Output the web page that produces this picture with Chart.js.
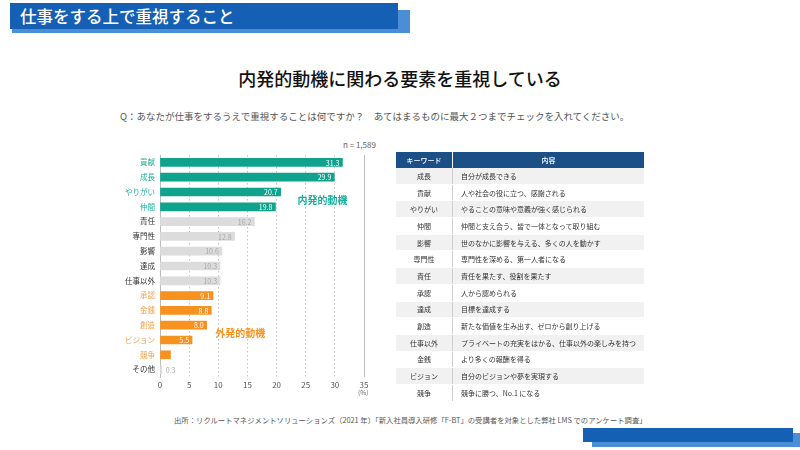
<!DOCTYPE html>
<html lang="ja">
<head>
<meta charset="utf-8">
<script src="https://cdn.jsdelivr.net/npm/chart.js@4"></script>
<style>
  html, body { margin: 0; padding: 0; background: #fff; }
  body { width: 800px; height: 450px; position: relative; overflow: hidden;
         font-family: "Noto Sans CJK JP", "Noto Sans", sans-serif; }
  .abs { position: absolute; }
  #hdr-shadow { left: 12px; top: 10px; width: 398px; height: 23px; background: #4a8fd6; }
  #hdr { left: 10px; top: 3px; width: 388px; height: 26px; background: #1560b5; }
  #hdr-text { left: 20px; top: 3px; height: 26px; line-height: 26px; color: #fff;
              font-size: 16.5px; font-weight: 500; }
  #title { left: 0; width: 800px; top: 65px; text-align: center; font-size: 18px;
           font-weight: 500; color: #111; }
  #question { left: 120px; top: 109px; font-size: 9.5px; color: #555; white-space: nowrap; }
  #n-label { left: 343px; top: 139px; font-size: 8px; color: #666; }
  #pct { left: 358px; top: 387px; font-size: 6.5px; color: #666; }
  #chart-box { left: 100px; top: 140px; width: 280px; height: 255px; }
  #kw-table { left: 396px; top: 152px; width: 248px; border-collapse: collapse;
              font-size: 7px; color: #333; table-layout: fixed; }
  #kw-table th { background: #1b4f86; color: #fff; font-weight: 500; height: 16px; padding: 0;
                 border-right: 1px solid #fff; }
  #kw-table th:first-child { width: 56px; }
  #kw-table th:last-child { border-right: none; }
  #kw-table td { height: 15.7px; padding: 0; border-bottom: 1px solid #fff; white-space: nowrap; }
  #kw-table td.k { text-align: center; border-right: 1px solid #cfcfcf; }
  #kw-table td.d { padding-left: 8px; }
  #kw-table tr.odd td { background: #f1f1f1; }
  #source { left: 174px; top: 414px; font-size: 7.35px; color: #555; white-space: nowrap; }
  #foot-shadow { left: 592px; top: 433px; width: 208px; height: 14px; background: #4a8fd6; }
  #foot { left: 583px; top: 428px; width: 210px; height: 14px; background: #1560b5; }
</style>
</head>
<body>
<div id="hdr-shadow" class="abs"></div>
<div id="hdr" class="abs"></div>
<div id="hdr-text" class="abs">仕事をする上で重視すること</div>

<div id="title" class="abs">内発的動機に関わる要素を重視している</div>
<div id="question" class="abs">Q：あなたが仕事をするうえで重視することは何ですか？　あてはまるものに最大２つまでチェックを入れてください。</div>

<div id="n-label" class="abs">n = 1,589</div>
<div id="chart-box" class="abs"><canvas id="chart"></canvas></div>
<div id="pct" class="abs">(%)</div>

<table id="kw-table" class="abs">
  <thead><tr><th>キーワード</th><th>内容</th></tr></thead>
  <tbody id="kw-body"></tbody>
</table>

<div id="source" class="abs">出所：リクルートマネジメントソリューションズ（2021 年）「新入社員導入研修「F-BT」の受講者を対象とした弊社 LMS でのアンケート調査」</div>
<div id="foot-shadow" class="abs"></div>
<div id="foot" class="abs"></div>

<script>
// ── Data ────────────────────────────────────────────────────────
const categories = ["貢献", "成長", "やりがい", "仲間", "責任", "専門性", "影響", "達成",
                    "仕事以外", "承認", "金銭", "創造", "ビジョン", "競争", "その他"];
const values     = [31.3, 29.9, 20.7, 19.8, 16.2, 12.8, 10.6, 10.3,
                    10.3, 9.1, 8.8, 8.0, 5.5, 1.8, 0.3];
// group: "in" = 内発的動機, "out" = 外発的動機, "mid" = other
const groups     = ["in", "in", "in", "in", "mid", "mid", "mid", "mid",
                    "mid", "out", "out", "out", "out", "out", "mid"];
const xTicks     = [0, 5, 10, 15, 20, 25, 30, 35];

const tableKeys  = ["成長", "貢献", "やりがい", "仲間", "影響", "専門性", "責任",
                    "承認", "達成", "創造", "仕事以外", "金銭", "ビジョン", "競争"];
const tableDescs = ["自分が成長できる", "人や社会の役に立つ、感謝される",
                    "やることの意味や意義が強く感じられる", "仲間と支え合う、皆で一体となって取り組む",
                    "世のなかに影響を与える、多くの人を動かす", "専門性を深める、第一人者になる",
                    "責任を果たす、役割を果たす", "人から認められる", "目標を達成する",
                    "新たな価値を生み出す、ゼロから創り上げる",
                    "プライベートの充実をはかる、仕事以外の楽しみを持つ",
                    "より多くの報酬を得る", "自分のビジョンや夢を実現する", "競争に勝つ、No.1 になる"];

// ── Colours ─────────────────────────────────────────────────────
const barColor   = { in: "#0fa38e", out: "#f7921e", mid: "#dcdcdc" };
const labelColor = { in: "#1aaf9c", out: "#f5a04a", mid: "#333333" };
const valueColor = { in: "#ffffff", out: "#ffffff", mid: "#a8a8a8" };
const fontFamily = "'Noto Sans CJK JP', 'Noto Sans', sans-serif";

// ── Table ───────────────────────────────────────────────────────
const tbody = document.getElementById("kw-body");
tableKeys.forEach((k, i) => {
  const tr = document.createElement("tr");
  if (i % 2 === 0) tr.className = "odd";
  tr.innerHTML = `<td class="k">${k}</td><td class="d">${tableDescs[i]}</td>`;
  tbody.appendChild(tr);
});

// ── Plugins: value labels, group captions, right border ─────────
const decorations = {
  id: "decorations",
  afterDatasetsDraw(chart) {
    const ctx = chart.ctx;
    const meta = chart.getDatasetMeta(0);
    const area = chart.chartArea;
    const xs = chart.scales.x;
    ctx.save();
    // solid right edge
    ctx.strokeStyle = "#bdbdbd";
    ctx.lineWidth = 1;
    ctx.beginPath();
    ctx.moveTo(Math.round(area.right) + 0.5, area.top);
    ctx.lineTo(Math.round(area.right) + 0.5, area.bottom);
    ctx.stroke();

    ctx.font = "7px " + fontFamily;
    ctx.textBaseline = "middle";
    meta.data.forEach((bar, i) => {
      const v = values[i];
      if (v < 1) {
        ctx.textAlign = "left";
        ctx.fillStyle = "#a8a8a8";
        ctx.fillText(v.toFixed(1), bar.x + 4, bar.y + 0.5);
      } else if (v >= 3) {
        ctx.textAlign = "right";
        ctx.fillStyle = valueColor[groups[i]];
        ctx.fillText(v.toFixed(1), bar.x - 3, bar.y + 0.5);
      }
    });

    ctx.font = "bold 10px " + fontFamily;
    ctx.textAlign = "left";
    ctx.fillStyle = labelColor.in;
    ctx.fillText("内発的動機", xs.getPixelForValue(23.6), (meta.data[2].y + meta.data[3].y) / 2 + 1);
    ctx.fillStyle = barColor.out;
    ctx.fillText("外発的動機", xs.getPixelForValue(9.5), (meta.data[11].y + meta.data[12].y) / 2 + 1);
    ctx.restore();
  },
};

// ── Chart ───────────────────────────────────────────────────────
new Chart(document.getElementById("chart"), {
  type: "bar",
  data: {
    labels: categories,
    datasets: [{
      data: values,
      backgroundColor: groups.map(g => barColor[g]),
      barThickness: 8,
    }],
  },
  options: {
    indexAxis: "y",
    responsive: true,
    maintainAspectRatio: false,
    animation: false,
    layout: { padding: { top: 15, right: 16, left: 0, bottom: 0 } },
    plugins: { legend: { display: false }, tooltip: { enabled: false } },
    scales: {
      x: {
        min: 0, max: 35,
        afterBuildTicks: (s) => { s.ticks = xTicks.map(v => ({ value: v })); },
        afterFit: (s) => { s.height = 18; },
        grid: {
          color: (c) => (c.tick && c.tick.value > 0 && c.tick.value < 35) ? "#c4c4c4" : "rgba(0,0,0,0)",
          drawTicks: false,
        },
        border: { display: false, dash: [1.5, 2.5] },
        ticks: { font: { family: fontFamily, size: 8 }, color: "#555", padding: 3 },
      },
      y: {
        afterFit: (s) => { s.width = 60; },
        grid: { display: false, drawTicks: false },
        border: { display: true, color: "#bdbdbd" },
        ticks: {
          font: { family: fontFamily, size: 7.5 },
          color: (c) => labelColor[groups[c.index]],
          padding: 5,
        },
      },
    },
  },
  plugins: [decorations],
});
</script>
</body>
</html>
